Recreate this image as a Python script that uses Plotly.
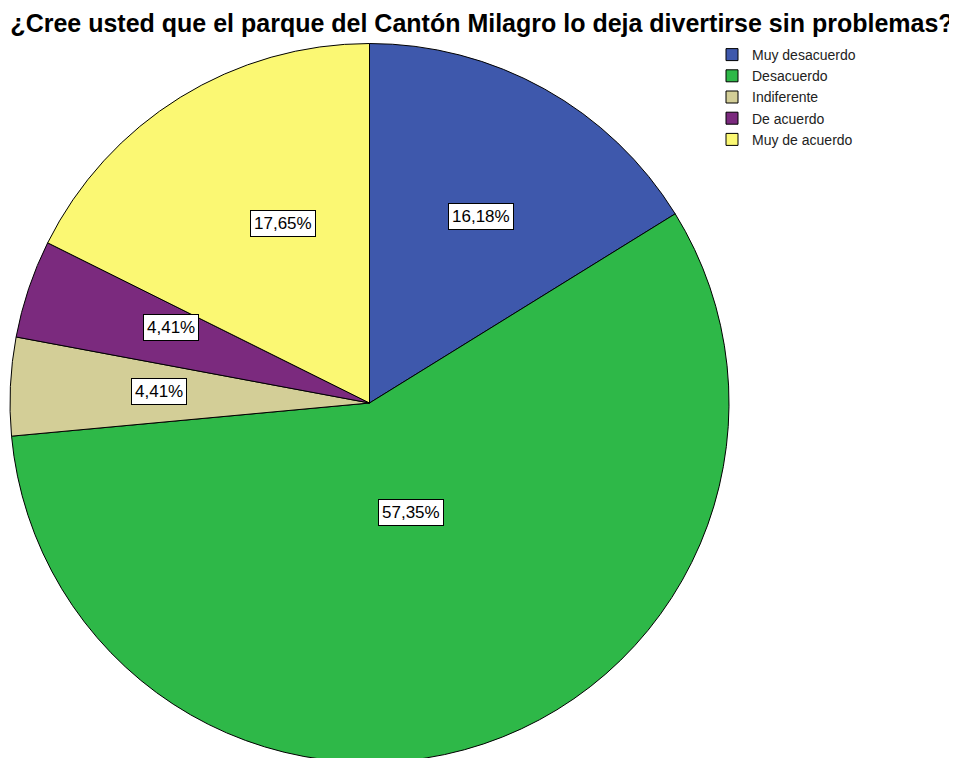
import math
import plotly.graph_objects as go

categories = ["Muy desacuerdo", "Desacuerdo", "Indiferente", "De acuerdo", "Muy de acuerdo"]
percentages = [16.18, 57.35, 4.41, 4.41, 17.65]
colors = ["#3e58ac", "#2eb848", "#d3ce97", "#7b2a7e", "#fbf873"]
title_text = "¿Cree usted que el parque del Cantón Milagro lo deja divertirse sin problemas?"

W, H = 957, 758
# pie placement (pixels, in figure coords)
cx, cy, r = 361.5, 395, 359.5

fig = go.Figure()
fig.add_trace(go.Pie(
    labels=categories,
    values=percentages,
    marker=dict(colors=colors, line=dict(color="black", width=1)),
    sort=False,
    direction="clockwise",
    rotation=0,
    textinfo="none",
    hoverinfo="label+percent",
    domain=dict(x=[(cx - r) / W, (cx + r) / W], y=[(H - cy - r) / H, (H - cy + r) / H]),
))

# boxed labels at slice centroids
total = sum(percentages)
start = 0.0
annotations = []
for p in percentages:
    half = math.pi * p / total
    mid = 2 * math.pi * start / total + half
    k = 2 * math.sin(half) / (3 * half)
    px = cx + k * r * math.sin(mid)
    py = cy - k * r * math.cos(mid)
    annotations.append(dict(
        x=px / W, y=1 - py / H, xref="paper", yref="paper",
        text=f"{p:.2f}%".replace(".", ","),
        showarrow=False,
        font=dict(size=17, color="black"),
        bgcolor="white", bordercolor="black", borderwidth=1, borderpad=3,
    ))
    start += p

fig.update_layout(
    width=W, height=H,
    paper_bgcolor="white",
    font=dict(family="Liberation Sans, Arial, sans-serif", color="black"),
    margin=dict(l=0, r=0, t=0, b=0),
    title=dict(text=f"<b>{title_text}</b>", x=474 / W, xanchor="center",
               y=1 - 15 / H, yanchor="middle", font=dict(size=25, color="black")),
    legend=dict(x=704 / W, y=1 - 31 / H, xanchor="left", yanchor="top",
                font=dict(size=14, color="#222222"), traceorder="normal",
                bgcolor="rgba(0,0,0,0)"),
    annotations=annotations,
)

fig.write_html("out.html")
